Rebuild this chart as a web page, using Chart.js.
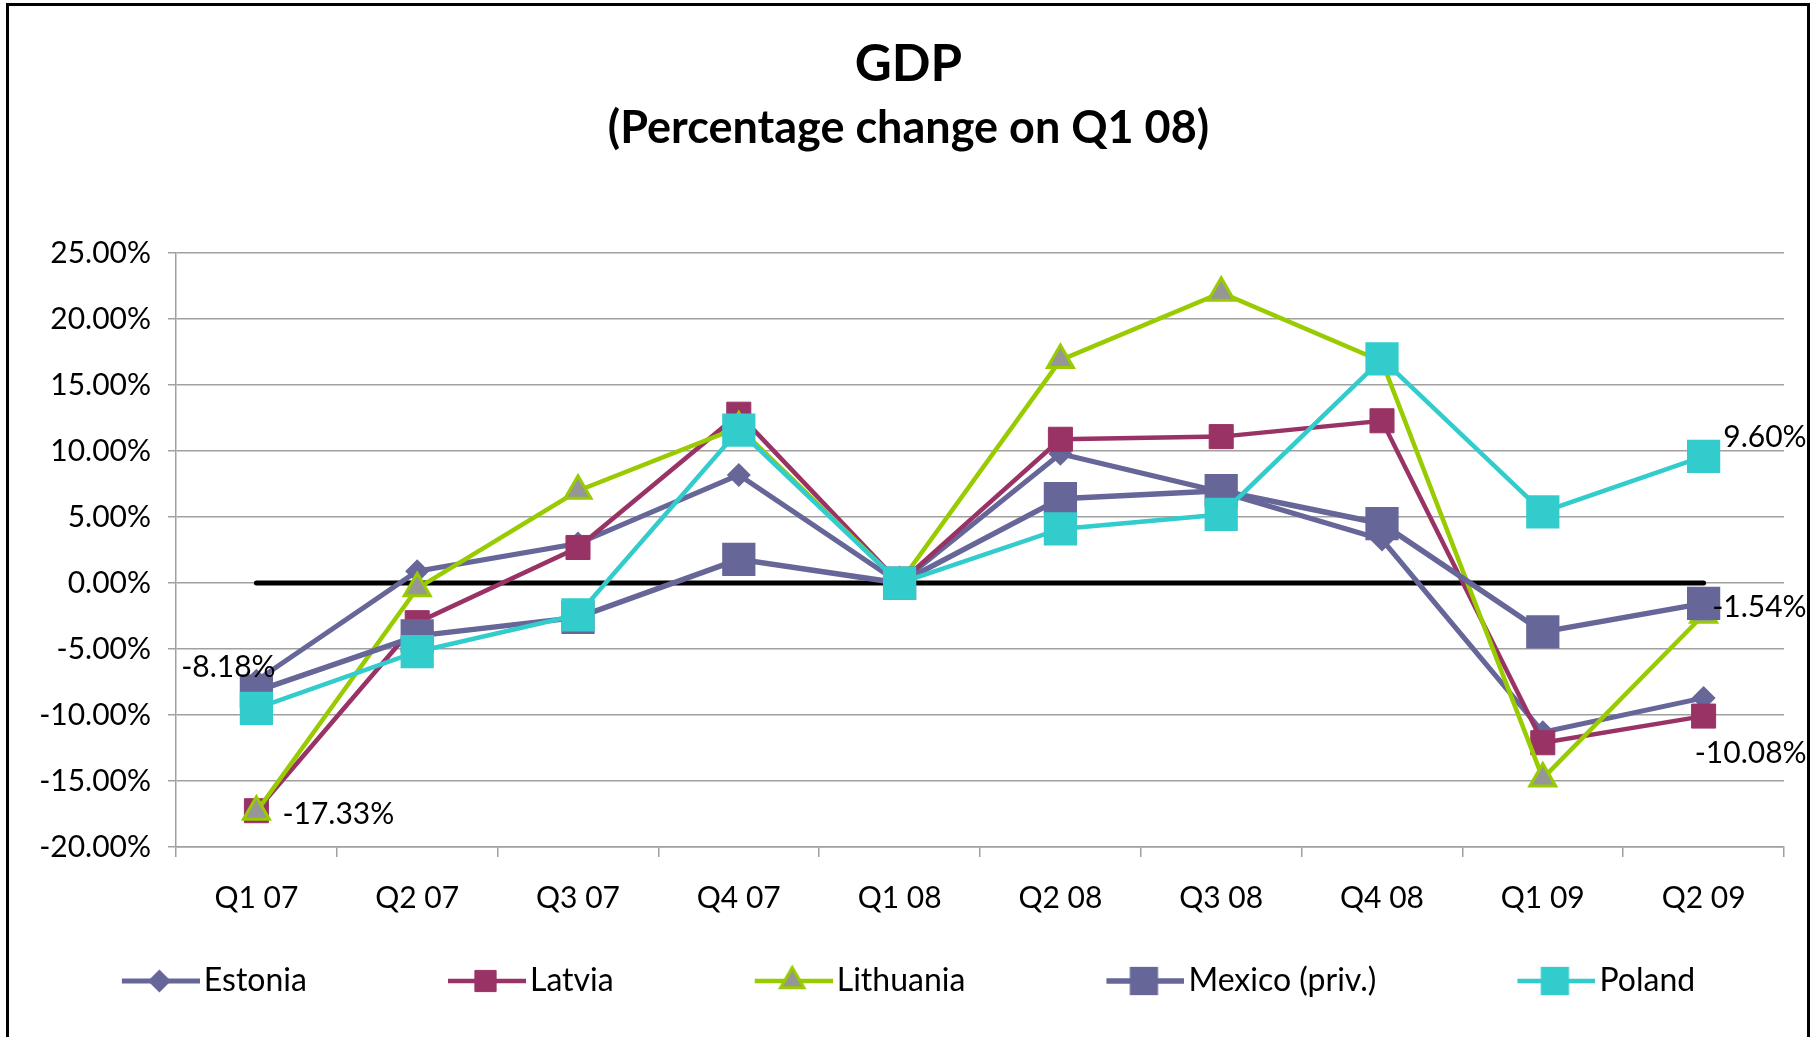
<!DOCTYPE html>
<html>
<head>
<meta charset="utf-8">
<title>GDP</title>
<script src="https://cdn.jsdelivr.net/npm/chart.js"></script>
<style>
    html, body { margin: 0; padding: 0; background: #fff; overflow: hidden; }
    .chart_wrap { position: relative; width: 1820px; height: 1037px; }
    #myChart { position: absolute; left: 0; top: 0; }
    .chart_frame { position: absolute; left: 6px; top: 3px; width: 1804px; height: 1100px; border: 3px solid #000; box-sizing: border-box; pointer-events: none; }
</style>
</head>
<body>
<div class="chart_wrap">
    <canvas id="myChart" width="1820" height="1037"></canvas>
    <div class="chart_frame"></div>
</div>
<script>
//横轴季度
var quarters = ['Q1 07', 'Q2 07', 'Q3 07', 'Q4 07', 'Q1 08', 'Q2 08', 'Q3 08', 'Q4 08', 'Q1 09', 'Q2 09'];
//各国数据 (%)
var estonia = [-7.4, 0.9, 3.0, 8.2, 0, 9.8, 6.9, 3.3, -11.3, -8.7];
var latvia = [-17.25, -3.0, 2.7, 12.8, 0, 10.9, 11.1, 12.3, -12.1, -10.08];
var lithuania = [-17.33, -0.4, 7.0, 11.8, 0, 16.9, 22.0, 16.8, -14.8, -2.4];
var mexico = [-8.18, -4.0, -2.6, 1.8, 0, 6.4, 7.0, 4.5, -3.7, -1.54];
var poland = [-9.5, -5.2, -2.4, 11.6, 0, 4.1, 5.2, 17.0, 5.4, 9.6];
//零线
var zeroLine = [0, 0, 0, 0, 0, 0, 0, 0, 0, 0];
//纵轴刻度
var yMin = -20, yMax = 25, yStep = 5;

var fontFamily = 'Lato';
var gridColor = '#a0a0a0';

//数据标签 (dataset序号, 点序号, 对齐, 偏移)
var pointLabels = [
    {ds: 3, idx: 0, align: 'center', dx: -28, dy: -24},
    {ds: 2, idx: 0, align: 'left', dx: 26, dy: 3},
    {ds: 4, idx: 9, align: 'right', dx: 103, dy: -19},
    {ds: 3, idx: 9, align: 'right', dx: 103, dy: 4},
    {ds: 1, idx: 9, align: 'right', dx: 103, dy: 37}
];

/**
 * 生成一条折线
 */
function makeSeries(label, data, color, style, radius, order, extra) {
    var ds = {
        label: label,
        data: data,
        borderColor: color,
        borderWidth: 4.5,
        pointStyle: style,
        pointRadius: radius,
        pointHoverRadius: radius,
        pointBackgroundColor: color,
        pointBorderColor: color,
        pointBorderWidth: 0,
        order: order,
        tension: 0
    };
    for (var k in extra) {
        ds[k] = extra[k];
    }
    return ds;
}

/**
 * 图例图标: 线 + 标记
 */
function createLegendIcon(ds) {
    var icon = document.createElement('canvas');
    icon.width = 90;
    icon.height = 40;
    var c = icon.getContext('2d');
    c.strokeStyle = ds.borderColor;
    c.lineWidth = ds.borderWidth;
    c.beginPath();
    c.moveTo(12, 20);
    c.lineTo(90, 20);
    c.stroke();
    c.fillStyle = ds.pointBackgroundColor;
    c.strokeStyle = ds.pointBorderColor;
    c.lineWidth = ds.pointBorderWidth;
    Chart.helpers.drawPoint(c, {
        pointStyle: ds.pointStyle,
        radius: ds.legendRadius,
        rotation: 0,
        borderWidth: ds.pointBorderWidth
    }, 49.5, 20);
    return icon;
}

//图例间距
var legendGap = new Array(17).join(' ');

//数据标签插件
var pointLabelPlugin = {
    id: 'pointLabels',
    afterDatasetsDraw: function (chart) {
        var ctx = chart.ctx;
        ctx.save();
        ctx.font = '30px ' + fontFamily;
        ctx.fillStyle = '#000';
        ctx.textBaseline = 'middle';
        for (var i = 0; i < pointLabels.length; i++) {
            var lb = pointLabels[i];
            var pt = chart.getDatasetMeta(lb.ds).data[lb.idx];
            var value = chart.data.datasets[lb.ds].data[lb.idx];
            ctx.textAlign = lb.align;
            ctx.fillText(value.toFixed(2) + '%', pt.x + lb.dx, pt.y + lb.dy);
        }
        ctx.restore();
    }
};

function showCharts(ctx) {
    var datasets = [
        makeSeries('Estonia', estonia, '#666699', 'rectRot', 12, 5, {borderWidth: 5, legendRadius: 11.5}),
        makeSeries('Latvia', latvia, '#993366', 'rect', 17, 4, {pointBorderWidth: 1, legendRadius: 15}),
        makeSeries('Lithuania', lithuania, '#99cc00', 'triangle', 15, 3, {
            pointBackgroundColor: '#969696',
            pointBorderWidth: 3,
            legendRadius: 13.5
        }),
        makeSeries('Mexico (priv.)', mexico, '#666699', 'rect', 23.5, 2, {borderWidth: 5.5, legendRadius: 20}),
        makeSeries('Poland', poland, '#33cccc', 'rect', 23.5, 1, {legendRadius: 20}),
        {
            label: 'zero',
            data: zeroLine,
            borderColor: '#000',
            borderWidth: 5,
            borderCapStyle: 'round',
            pointRadius: 0,
            pointHoverRadius: 0,
            order: 6
        }
    ];

    var chart = new Chart(ctx, {
        type: 'line',
        data: {
            labels: quarters,
            datasets: datasets
        },
        plugins: [pointLabelPlugin],
        options: {
            responsive: false,
            animation: false,
            devicePixelRatio: 1,
            events: [],
            layout: {padding: {left: 33, right: 36, top: 0, bottom: 30}},
            scales: {
                x: {
                    offset: true,
                    grid: {
                        offset: true,
                        drawOnChartArea: false,
                        drawTicks: true,
                        tickLength: 10,
                        color: gridColor,
                        lineWidth: 1.5
                    },
                    border: {color: gridColor, width: 1.5},
                    ticks: {
                        color: '#000',
                        padding: 23,
                        maxRotation: 0,
                        font: {family: fontFamily, size: 30}
                    },
                    afterFit: function (scale) {
                        scale.height = 108;
                    }
                },
                y: {
                    min: yMin,
                    max: yMax,
                    grid: {
                        color: gridColor,
                        lineWidth: 1.5,
                        tickLength: 8
                    },
                    border: {color: gridColor, width: 1.5},
                    ticks: {
                        stepSize: yStep,
                        color: '#000',
                        padding: 17,
                        font: {family: fontFamily, size: 30},
                        callback: function (v) {
                            return v.toFixed(2) + '%';
                        }
                    },
                    afterFit: function (scale) {
                        scale.width = 143;
                    }
                }
            },
            plugins: {
                tooltip: {enabled: false},
                title: {
                    display: true,
                    text: 'GDP',
                    color: '#000',
                    font: {family: fontFamily, size: 51, weight: 'bold'},
                    padding: {top: 34, bottom: 0}
                },
                subtitle: {
                    display: true,
                    text: '(Percentage change on Q1 08)',
                    color: '#000',
                    font: {family: fontFamily, size: 45, weight: 'bold'},
                    padding: {top: 6, bottom: 98}
                },
                legend: {
                    position: 'bottom',
                    labels: {
                        usePointStyle: true,
                        pointStyleWidth: 66,
                        padding: 10,
                        color: '#000',
                        font: {family: fontFamily, size: 32},
                        generateLabels: function (chart) {
                            var items = [];
                            var list = chart.data.datasets;
                            for (var i = 0; i < list.length; i++) {
                                if (list[i].label === 'zero') {
                                    continue;
                                }
                                var isLast = (i === list.length - 2);
                                items.push({
                                    text: list[i].label + (isLast ? '' : legendGap),
                                    fillStyle: list[i].borderColor,
                                    strokeStyle: list[i].borderColor,
                                    lineWidth: 0,
                                    hidden: false,
                                    datasetIndex: i,
                                    pointStyle: createLegendIcon(list[i]),
                                    fontColor: '#000'
                                });
                            }
                            return items;
                        }
                    }
                }
            }
        }
    });
    return chart;
}

var ctx = document.getElementById('myChart').getContext('2d');
showCharts(ctx);
</script>
</body>
</html>
